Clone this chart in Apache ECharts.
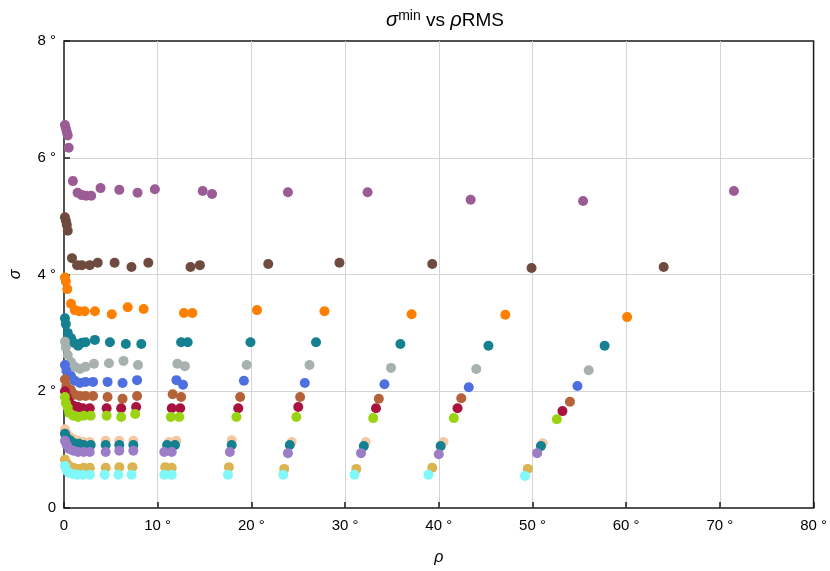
<!DOCTYPE html>
<html>
<head>
<meta charset="utf-8">
<script src="https://cdn.jsdelivr.net/npm/echarts@6/dist/echarts.min.js"></script>
<style>html,body{margin:0;padding:0;background:#fff}#c{width:830px;height:571px}</style>
</head>
<body>
<div id="c"></div>
<script>
const xTicks = [0, 10, 20, 30, 40, 50, 60, 70, 80];
const yTicks = [0, 2, 4, 6, 8];
const seriesNames = ['purple','brown','orange','teal','gray','blue','sienna','crimson','lime','peach','teal2','lavender','gold','cyan'];
const seriesColors = ['#9b5b95','#6f4a3e','#ff7f00','#15808f','#a7b1ae','#4d6fe0','#b5623a','#a9123f','#9ad311','#f2c8a3','#15808f','#9c7dc8','#dbb350','#80f7f8'];

const purple = [[0.1,6.56],[0.2,6.5],[0.3,6.44],[0.4,6.38],[0.5,6.17],[0.95,5.6],[1.45,5.4],[1.9,5.36],[2.35,5.35],[2.9,5.35],[3.9,5.48],[5.9,5.45],[7.85,5.4],[9.7,5.46],[14.8,5.43],[15.8,5.38],[23.9,5.41],[32.4,5.41],[43.4,5.28],[55.4,5.26],[71.5,5.43]];
const brown = [[0.1,4.98],[0.2,4.92],[0.3,4.85],[0.4,4.75],[0.85,4.28],[1.4,4.16],[1.9,4.16],[2.75,4.16],[3.6,4.2],[5.4,4.2],[7.2,4.13],[9.0,4.2],[13.5,4.13],[14.5,4.16],[21.8,4.18],[29.4,4.2],[39.3,4.18],[49.9,4.11],[64.0,4.13]];
const orange = [[0.1,3.95],[0.2,3.88],[0.35,3.75],[0.75,3.5],[1.15,3.39],[1.6,3.37],[2.2,3.37],[3.3,3.37],[5.1,3.32],[6.8,3.44],[8.5,3.41],[12.8,3.34],[13.7,3.34],[20.6,3.39],[27.8,3.37],[37.1,3.32],[47.1,3.31],[60.1,3.27]];
const teal = [[0.1,3.25],[0.2,3.15],[0.4,3.0],[0.75,2.91],[1.05,2.83],[1.5,2.78],[1.9,2.83],[2.3,2.84],[3.3,2.88],[4.9,2.84],[6.6,2.81],[8.25,2.81],[12.5,2.84],[13.2,2.84],[19.9,2.84],[26.9,2.84],[35.9,2.81],[45.3,2.78],[57.7,2.78]];
const gray = [[0.1,2.85],[0.2,2.75],[0.4,2.62],[0.75,2.5],[1.15,2.42],[1.7,2.38],[2.3,2.42],[3.2,2.47],[4.8,2.48],[6.35,2.52],[7.9,2.45],[12.1,2.47],[12.9,2.43],[19.5,2.45],[26.2,2.45],[34.9,2.4],[44.0,2.38],[56.0,2.36]];
const blue = [[0.1,2.45],[0.25,2.35],[0.75,2.26],[1.15,2.18],[1.7,2.14],[2.3,2.16],[3.1,2.16],[4.65,2.16],[6.25,2.14],[7.8,2.19],[12.0,2.19],[12.7,2.11],[19.2,2.18],[25.7,2.14],[34.2,2.12],[43.2,2.07],[54.8,2.09]];
const sienna = [[0.1,2.2],[0.25,2.1],[0.75,2.02],[1.15,1.94],[1.7,1.92],[2.3,1.92],[3.1,1.92],[4.65,1.9],[6.25,1.87],[7.8,1.92],[11.6,1.95],[12.5,1.9],[18.8,1.9],[25.2,1.9],[33.6,1.87],[42.4,1.88],[54.0,1.82]];
const crimson = [[0.1,2.0],[0.3,1.9],[0.55,1.82],[1.0,1.75],[1.5,1.73],[2.0,1.71],[2.75,1.71],[4.55,1.71],[6.1,1.71],[7.7,1.73],[11.5,1.71],[12.4,1.71],[18.6,1.71],[25.0,1.73],[33.3,1.71],[42.0,1.71],[53.2,1.66]];
const lime = [[0.1,1.9],[0.2,1.8],[0.4,1.72],[0.55,1.63],[1.0,1.58],[1.5,1.56],[2.1,1.58],[2.85,1.58],[4.55,1.58],[6.1,1.56],[7.6,1.61],[11.4,1.56],[12.3,1.56],[18.4,1.56],[24.8,1.56],[33.0,1.54],[41.6,1.54],[52.6,1.52]];
const peach = [[0.1,1.35],[0.3,1.27],[0.55,1.23],[1.0,1.18],[1.5,1.15],[2.1,1.13],[2.75,1.13],[4.45,1.15],[5.9,1.15],[7.4,1.15],[11.2,1.13],[12.0,1.15],[17.9,1.16],[24.3,1.13],[32.2,1.13],[40.5,1.13],[51.1,1.11]];
const teal2 = [[0.1,1.27],[0.3,1.2],[0.65,1.16],[1.05,1.11],[1.6,1.1],[2.1,1.08],[2.85,1.08],[4.45,1.08],[5.9,1.08],[7.4,1.08],[11.0,1.08],[11.85,1.08],[17.9,1.08],[24.1,1.08],[32.0,1.06],[40.2,1.06],[50.9,1.06]];
const lavender = [[0.1,1.15],[0.3,1.08],[0.55,1.01],[1.0,0.98],[1.5,0.96],[2.1,0.96],[2.75,0.96],[4.45,0.96],[5.9,0.98],[7.4,0.98],[10.7,0.96],[11.5,0.96],[17.7,0.96],[23.9,0.94],[31.7,0.94],[40.0,0.92],[50.5,0.94]];
const gold = [[0.1,0.83],[0.3,0.76],[0.55,0.72],[1.0,0.69],[1.5,0.67],[2.1,0.69],[2.75,0.69],[4.45,0.69],[5.9,0.7],[7.3,0.7],[10.8,0.7],[11.5,0.69],[17.6,0.7],[23.5,0.67],[31.2,0.67],[39.3,0.69],[49.5,0.67]];
const cyan = [[0.1,0.72],[0.3,0.64],[0.55,0.6],[1.0,0.58],[1.4,0.57],[2.0,0.57],[2.75,0.57],[4.35,0.57],[5.8,0.57],[7.2,0.57],[10.7,0.57],[11.5,0.57],[17.5,0.57],[23.4,0.57],[31.0,0.57],[38.9,0.57],[49.2,0.55]];

const allData = [purple,brown,orange,teal,gray,blue,sienna,crimson,lime,peach,teal2,lavender,gold,cyan];

const chart = echarts.init(document.getElementById('c'), null, {renderer:'canvas'});
const fontFam = 'Liberation Sans, Arial, sans-serif';
const degFmt = v => v === 0 ? '0' : (v + ' °');

chart.setOption({
  animation: false,
  backgroundColor: '#fff',
  title: {
    text: '{i|σ}{sup|min} vs {i|ρ}RMS',
    left: 440, top: 4, textAlign: 'center',
    textStyle: {
      fontFamily: fontFam, fontSize: 19, fontWeight: 'normal', color: '#000',
      rich: {
        i: {fontFamily: fontFam, fontSize: 20, fontStyle: 'italic', color: '#000'},
        sup: {fontFamily: fontFam, fontSize: 14, verticalAlign: 'top', padding: [0,0,9,0], color: '#000'}
      }
    }
  },
  grid: {left: 62, right: 12, top: 41, bottom: 63, show: true, borderColor: '#1a1a1a', borderWidth: 1.5, containLabel: false},
  xAxis: {
    type: 'value', min: 0, max: 80, interval: 10,
    name: 'ρ', nameLocation: 'middle', nameGap: 42,
    nameTextStyle: {fontFamily: fontFam, fontSize: 16, fontStyle: 'italic', color: '#000'},
    axisLine: {show: false},
    axisTick: {show: true, inside: true, length: 6, lineStyle: {color: '#1a1a1a', width: 1.5}},
    axisLabel: {fontFamily: fontFam, fontSize: 15, color: '#000', margin: 10, formatter: degFmt},
    splitLine: {show: true, showMinLine: false, showMaxLine: false, lineStyle: {color: '#d4d4d4', width: 1}}
  },
  yAxis: {
    type: 'value', min: 0, max: 8, interval: 2,
    name: 'σ', nameLocation: 'middle', nameGap: 40, nameRotate: 90,
    nameTextStyle: {fontFamily: fontFam, fontSize: 16, fontStyle: 'italic', color: '#000'},
    axisLine: {show: false},
    axisTick: {show: true, inside: true, length: 6, lineStyle: {color: '#1a1a1a', width: 1.5}},
    axisLabel: {fontFamily: fontFam, fontSize: 15, color: '#000', margin: 8, formatter: degFmt},
    splitLine: {show: true, showMinLine: false, showMaxLine: false, lineStyle: {color: '#d4d4d4', width: 1}}
  },
  series: allData.map((d, i) => ({
    name: seriesNames[i],
    type: 'scatter',
    data: d,
    symbol: 'circle',
    symbolSize: 10,
    itemStyle: {color: seriesColors[i], opacity: 1},
    z: 2 + i
  }))
});
</script>
</body>
</html>
